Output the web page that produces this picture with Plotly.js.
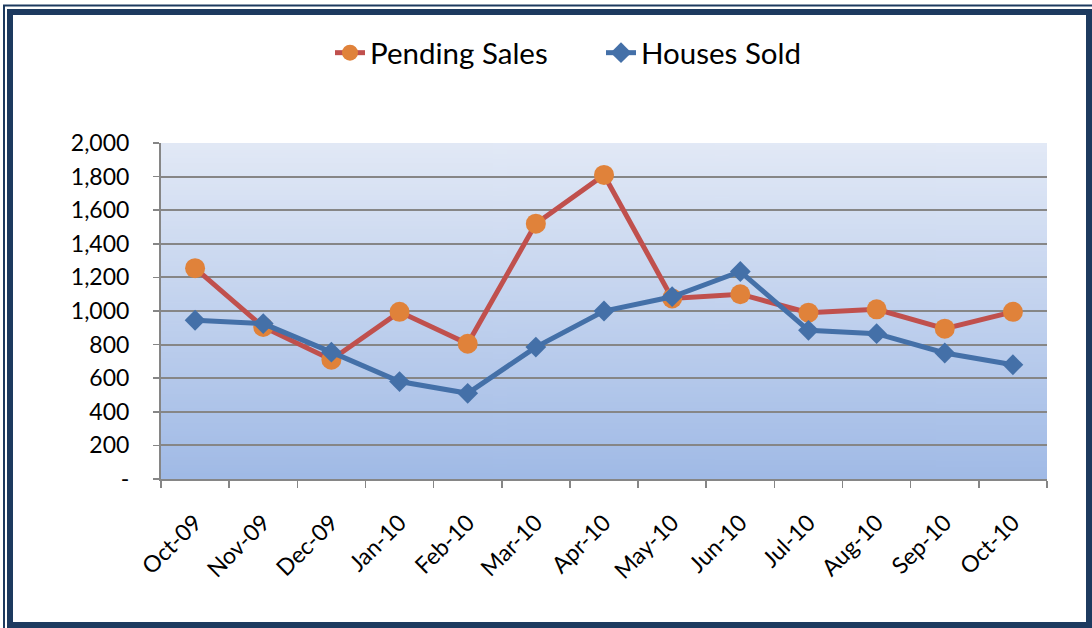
<!DOCTYPE html>
<html>
<head>
<meta charset="utf-8">
<script src="https://cdn.plot.ly/plotly-3.0.1.min.js"></script>
<style>
  html, body { margin: 0; padding: 0; background: #ffffff; }
  #chart { width: 1092px; height: 628px; }
</style>
</head>
<body>
<div id="chart"></div>
<script>
// ---- data ----
var months = ["Oct-09", "Nov-09", "Dec-09", "Jan-10", "Feb-10", "Mar-10", "Apr-10",
              "May-10", "Jun-10", "Jul-10", "Aug-10", "Sep-10", "Oct-10"];
var pendingSales = [1255, 905, 710, 995, 805, 1520, 1810, 1075, 1100, 990, 1010, 895, 995];
var housesSold   = [945, 925, 755, 580, 510, 785, 1000, 1085, 1235, 885, 865, 750, 680];
var yTickVals  = [0, 200, 400, 600, 800, 1000, 1200, 1400, 1600, 1800, 2000];
var yTickText  = ["-", "200", "400", "600", "800", "1,000", "1,200", "1,400", "1,600", "1,800", "2,000"];

// ---- geometry ----
var W = 1092, H = 628;
var L = 161, R = 1047, T = 143, B = 479;
function px(x) { return (x - L) / (R - L); }
function py(y) { return (B - y) / (B - T); }

// gradient background for plot area
var cv = document.createElement('canvas');
cv.width = 4; cv.height = 256;
var ctx = cv.getContext('2d');
var g = ctx.createLinearGradient(0, 0, 0, 256);
g.addColorStop(0, '#e2e9f6');
g.addColorStop(1, '#a0bae6');
ctx.fillStyle = g;
ctx.fillRect(0, 0, 4, 256);
var bgURL = cv.toDataURL('image/png');

var FONT = 'Lato, "Open Sans", sans-serif';
var frameColor = '#1d3a5f';

var traces = [
  {
    x: months, y: pendingSales, name: 'Pending Sales', type: 'scatter', mode: 'lines+markers',
    line: { color: '#c0504d', width: 5 },
    marker: { symbol: 'circle', size: 20, color: '#e0823a' }
  },
  {
    x: months, y: housesSold, name: 'Houses Sold', type: 'scatter', mode: 'lines+markers',
    line: { color: '#4470a8', width: 5 },
    marker: { symbol: 'diamond', size: 16, color: '#4470a8' }
  }
];

var layout = {
  width: W, height: H,
  margin: { l: L, r: W - R, t: T, b: H - B, pad: 0 },
  paper_bgcolor: '#ffffff',
  plot_bgcolor: 'rgba(0,0,0,0)',
  font: { family: FONT, color: '#000000' },
  showlegend: true,
  legend: {
    orientation: 'h', xref: 'container', yref: 'container',
    x: 330 / W, xanchor: 'left', y: 1 - 53 / H, yanchor: 'middle',
    entrywidth: 226, entrywidthmode: 'pixels',
    font: { family: FONT, size: 29.5, color: '#000000' },
    bgcolor: 'rgba(0,0,0,0)', traceorder: 'normal'
  },
  xaxis: {
    type: 'category', tickson: 'boundaries',
    ticks: 'outside', ticklen: 7, tickwidth: 1.5, tickcolor: '#868686',
    showline: true, linecolor: '#868686', linewidth: 2,
    showgrid: false, zeroline: false,
    tickangle: -45, ticklabelstandoff: 19,
    tickfont: { family: FONT, size: 23, color: '#000000' },
    range: [-0.5, 12.5]
  },
  yaxis: {
    range: [0, 2000], tickvals: yTickVals, ticktext: yTickText,
    ticks: 'outside', ticklen: 6, tickwidth: 1.5, tickcolor: '#868686',
    showline: true, linecolor: '#868686', linewidth: 2,
    showgrid: true, gridcolor: '#868686', gridwidth: 2, zeroline: false,
    ticklabelstandoff: 19,
    tickfont: { family: FONT, size: 23, color: '#000000' }
  },
  images: [{
    source: bgURL, xref: 'paper', yref: 'paper', x: 0, y: 1, sizex: 1, sizey: 1,
    xanchor: 'left', yanchor: 'top', sizing: 'stretch', layer: 'below'
  }],
  shapes: [
    { type: 'rect', xref: 'paper', yref: 'paper', x0: px(4), x1: px(1100), y0: py(640), y1: py(5.5),
      line: { color: frameColor, width: 2 }, fillcolor: 'rgba(0,0,0,0)' },
    { type: 'rect', xref: 'paper', yref: 'paper', x0: px(10), x1: px(1089), y0: py(625), y1: py(12),
      line: { color: frameColor, width: 6 }, fillcolor: 'rgba(0,0,0,0)' }
  ]
};

Plotly.newPlot('chart', traces, layout, { displayModeBar: false, staticPlot: true });
</script>
</body>
</html>
